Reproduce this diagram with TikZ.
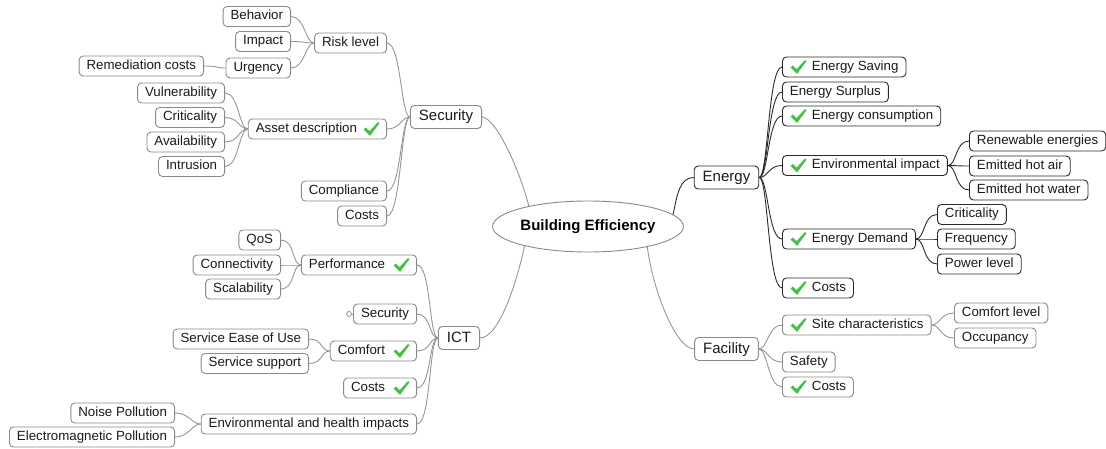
\documentclass[tikz,border=0pt]{standalone}
\usepackage{fontspec}
\setmainfont{Liberation Sans}
\usetikzlibrary{shapes.geometric}
\definecolor{gline}{HTML}{969696}
\definecolor{gbord}{HTML}{8A8A8A}
\definecolor{dline}{HTML}{2A2A2A}
\definecolor{chkg}{HTML}{46C046}
\definecolor{txt}{HTML}{1A1A1A}
\tikzset{
 leaf/.style={draw=gbord, line width=0.9pt, rounded corners=4pt, fill=white, text=txt,
   font=\fontsize{13.3}{15}\selectfont, inner xsep=7.5pt, inner ysep=0pt,
   text height=9.7pt, text depth=2.8pt, minimum height=20pt},
 eleaf/.style={leaf, draw=dline},
 mainbox/.style={leaf, font=\fontsize{15}{17}\selectfont, minimum height=23pt, inner xsep=8.5pt,
   text height=11pt, text depth=3pt},
 emain/.style={mainbox, draw=dline},
 conn/.style={draw=gline, line width=0.9pt},
 econn/.style={draw=dline, line width=0.9pt},
 chk/.pic={\fill[chkg] (-8,0.5) -- (-5.5,-1.5) -- (-2,2.2) -- (6.5,-7) -- (8,-5.8) -- (-1.5,7) -- cycle;},
}
\begin{document}
\begin{tikzpicture}[x=1pt,y=-1pt]
\useasboundingbox (0,0) rectangle (1106,449);
% root
\node[ellipse, draw=gbord, line width=0.9pt, fill=white, minimum width=170pt, minimum height=51pt,
  inner sep=0pt, font=\bfseries\fontsize{15}{17}\selectfont, text=black] (root) at (588,226.5) {Building Efficiency};
% Security
\node[mainbox] (sec) at (446,117) {Security};
\node[leaf, anchor=east] (risk) at (387,43) {Risk level};
\node[leaf, anchor=east] (beh) at (291,16.5) {Behavior};
\node[leaf, anchor=east] (imp) at (291,41.5) {Impact};
\node[leaf, anchor=east] (urg) at (291,68) {Urgency};
\node[leaf, anchor=east] (rem) at (204,66) {Remediation costs};
\node[leaf, anchor=east] (asset) at (387,129) {Asset description\kern22pt};
\node[leaf, anchor=east] (vul) at (225,93) {Vulnerability};
\node[leaf, anchor=east] (crit) at (225,117.5) {Criticality};
\node[leaf, anchor=east] (avail) at (225,142) {Availability};
\node[leaf, anchor=east] (intr) at (225,166.5) {Intrusion};
\node[leaf, anchor=east] (comp) at (387,191) {Compliance};
\node[leaf, anchor=east] (scost) at (387,216) {Costs};
% ICT
\node[mainbox] (ict) at (459,338) {ICT};
\node[leaf, anchor=east] (perf) at (417,265) {Performance\kern24pt};
\node[leaf, anchor=east] (qos) at (281,240) {QoS};
\node[leaf, anchor=east] (cnty) at (281,265) {Connectivity};
\node[leaf, anchor=east] (scal) at (281,289) {Scalability};
\node[leaf, anchor=east] (isec) at (417,314) {Security};
\node[circle, draw=gbord, line width=0.7pt, fill=white, inner sep=0pt, minimum size=5pt] (col) at (349,314) {};
\node[leaf, anchor=east] (comf) at (417,351) {Comfort\kern24pt};
\node[leaf, anchor=east] (sease) at (309,339) {Service Ease of Use};
\node[leaf, anchor=east] (ssup) at (309,363.5) {Service support};
\node[leaf, anchor=east] (icost) at (417,388) {Costs\kern24pt};
\node[leaf, anchor=east] (envh) at (417,424) {Environmental and health impacts};
\node[leaf, anchor=east] (noise) at (175,413) {Noise Pollution};
\node[leaf, anchor=east] (emag) at (175,437) {Electromagnetic Pollution};
% Energy
\node[emain] (en) at (726.5,177.5) {Energy};
\node[eleaf, anchor=west] (esav) at (782,67) {\kern22pt Energy Saving};
\node[eleaf, anchor=west] (esur) at (782,92) {Energy Surplus};
\node[eleaf, anchor=west] (econ) at (782,116) {\kern22pt Energy consumption};
\node[eleaf, anchor=west] (eimp) at (782,165.5) {\kern22pt Environmental impact};
\node[eleaf, anchor=west] (ren) at (969,141) {Renewable energies};
\node[eleaf, anchor=west] (hair) at (969,166) {Emitted hot air};
\node[eleaf, anchor=west] (hwat) at (969,190) {Emitted hot water};
\node[eleaf, anchor=west] (edem) at (782,239) {\kern22pt Energy Demand};
\node[eleaf, anchor=west] (ecrit) at (937,214.5) {Criticality};
\node[eleaf, anchor=west] (freq) at (937,239) {Frequency};
\node[eleaf, anchor=west] (pow) at (937,264) {Power level};
\node[eleaf, anchor=west] (ecost) at (782,288) {\kern22pt Costs};
% Facility
\node[mainbox] (fac) at (726.5,349) {Facility};
\node[leaf, anchor=west] (site) at (782,325) {\kern22pt Site characteristics};
\node[leaf, anchor=west] (cl) at (954,313) {Comfort level};
\node[leaf, anchor=west] (occ) at (954,338) {Occupancy};
\node[leaf, anchor=west] (safe) at (782,362) {Safety};
\node[leaf, anchor=west] (fcost) at (782,387) {\kern22pt Costs};
% check marks
\path (asset.east) ++(-15.5,0) pic {chk};
\path (perf.east) ++(-15.5,0) pic {chk};
\path (comf.east) ++(-15.5,0) pic {chk};
\path (icost.east) ++(-15.5,0) pic {chk};
\path (esav.west) ++(16.5,0) pic {chk};
\path (econ.west) ++(16.5,0) pic {chk};
\path (eimp.west) ++(16.5,0) pic {chk};
\path (edem.west) ++(16.5,0) pic {chk};
\path (ecost.west) ++(16.5,0) pic {chk};
\path (site.west) ++(16.5,0) pic {chk};
\path (fcost.west) ++(16.5,0) pic {chk};
% root connectors
\draw[conn] (sec.east) .. controls +(15,1) and +(-7,-30) .. (root.161.7);
\draw[conn] (root.197.7) .. controls +(-6,30) and +(20,0) .. (ict.east);
\draw[econn] (root.8.6) .. controls +(4,-20) and +(-14,0) .. (en.west);
\draw[conn] (root.341.4) .. controls +(6,45) and +(-18,0) .. (fac.west);
% left connectors
\foreach \c/\p in {risk/sec, asset/sec, comp/sec, scost/sec,
  beh/risk, imp/risk, urg/risk, rem/urg,
  vul/asset, crit/asset, avail/asset, intr/asset,
  perf/ict, isec/ict, comf/ict, icost/ict, envh/ict,
  qos/perf, cnty/perf, scal/perf,
  sease/comf, ssup/comf, noise/envh, emag/envh}
  \draw[conn] (\c.east) .. controls +(14,0) and +(-9,0) .. (\p.west);
\draw[conn] (col) -- (isec.west);
% right connectors
\foreach \p/\c in {en/esav, en/esur, en/econ, en/eimp, en/edem, en/ecost,
  eimp/ren, eimp/hair, eimp/hwat, edem/ecrit, edem/freq, edem/pow}
  \draw[econn] (\p.east) .. controls +(9,0) and +(-14,0) .. (\c.west);
\foreach \p/\c in {fac/site, fac/safe, fac/fcost, site/cl, site/occ}
  \draw[conn] (\p.east) .. controls +(9,0) and +(-14,0) .. (\c.west);
\end{tikzpicture}
\end{document}
